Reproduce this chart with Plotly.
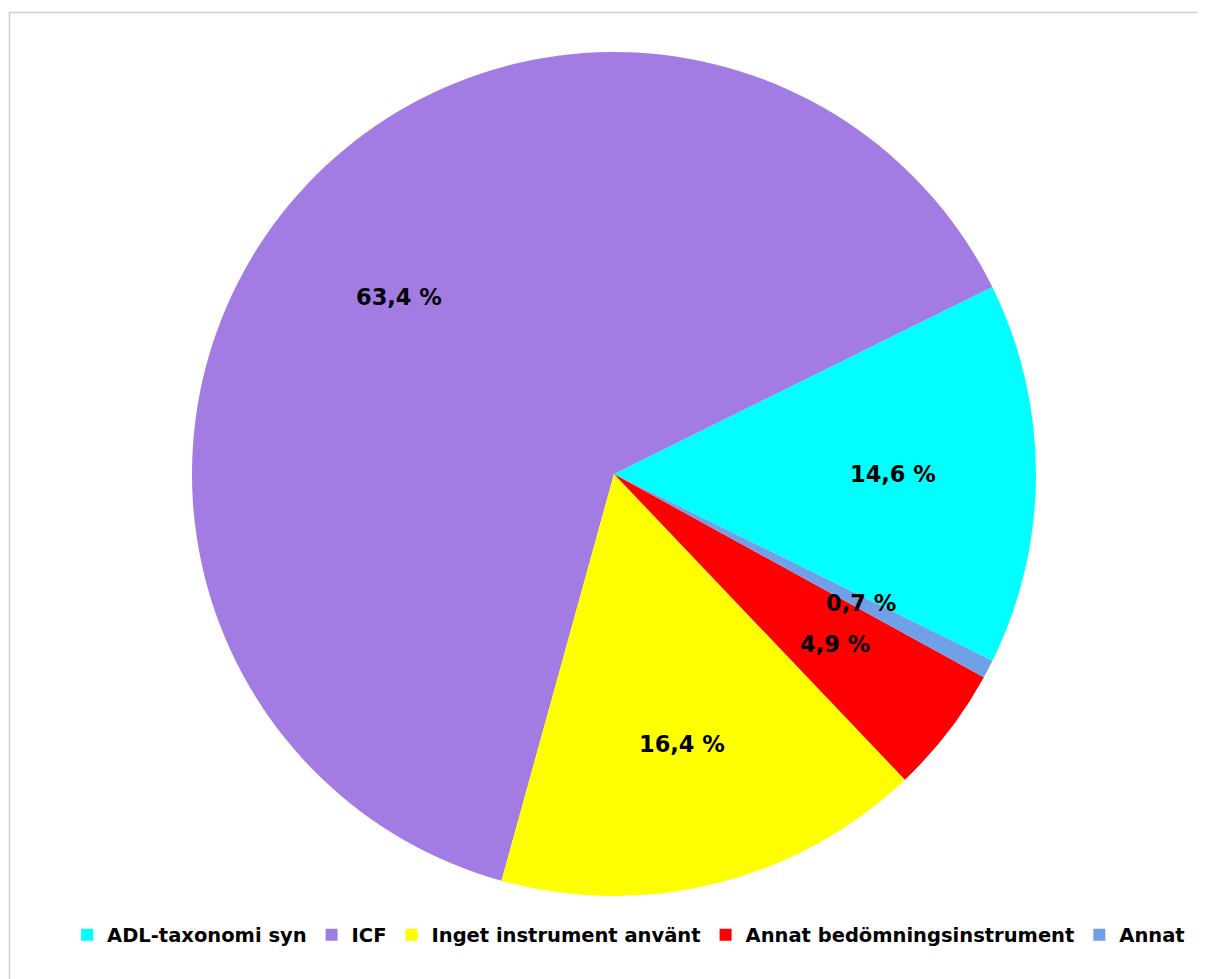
import math

import plotly.graph_objects as go

labels = ["ADL-taxonomi syn", "ICF", "Inget instrument använt", "Annat bedömningsinstrument", "Annat"]
values = [14.6, 63.4, 16.4, 4.9, 0.7]
colors = ["#00ffff", "#a27be3", "#ffff00", "#ff0000", "#70a1e8"]
text_labels = ["14,6 %", "63,4 %", "16,4 %", "4,9 %", "0,7 %"]

W, H = 1205, 979
cx, cy, R = 606, 466, 422
rotation = 63.7

fig = go.Figure(
    go.Pie(
        labels=labels,
        values=values,
        sort=False,
        direction="counterclockwise",
        rotation=rotation,
        marker=dict(colors=colors, line=dict(width=0)),
        textinfo="none",
        hoverinfo="label+percent",
        domain=dict(x=[(cx - R) / W, (cx + R) / W], y=[1 - (cy + R) / H, 1 - (cy - R) / H]),
    )
)

# labels at the middle of each slice, about two thirds out
total = sum(values)
start = 90 - rotation - values[0] / total * 360
for v, t in zip(values, text_labels):
    mid = start + v / total * 360 / 2
    start += v / total * 360
    r = 0.66 * R
    x = cx + r * math.cos(math.radians(mid))
    y = cy - r * math.sin(math.radians(mid))
    fig.add_annotation(
        x=x / W, y=1 - y / H, xref="paper", yref="paper",
        xanchor="center", yanchor="middle",
        text=t, showarrow=False,
        font=dict(family="DejaVu Sans", size=22.5, color="black", weight="bold"),
    )

fig.add_shape(
    type="rect", xref="paper", yref="paper",
    x0=1.5 / W, x1=1.05, y0=-0.05, y1=1 - 4.5 / H,
    line=dict(color="#d0d0d0", width=1.5),
)

fig.update_layout(
    width=W,
    height=H,
    margin=dict(l=0, r=0, t=0, b=0),
    paper_bgcolor="white",
    showlegend=True,
    legend=dict(
        orientation="h",
        x=0.515, xanchor="center",
        y=1 - 927 / H, yanchor="middle",
        font=dict(family="DejaVu Sans", size=19.5, color="black", weight="bold"),
        itemwidth=30,
    ),
)

fig.write_html("out.html")
